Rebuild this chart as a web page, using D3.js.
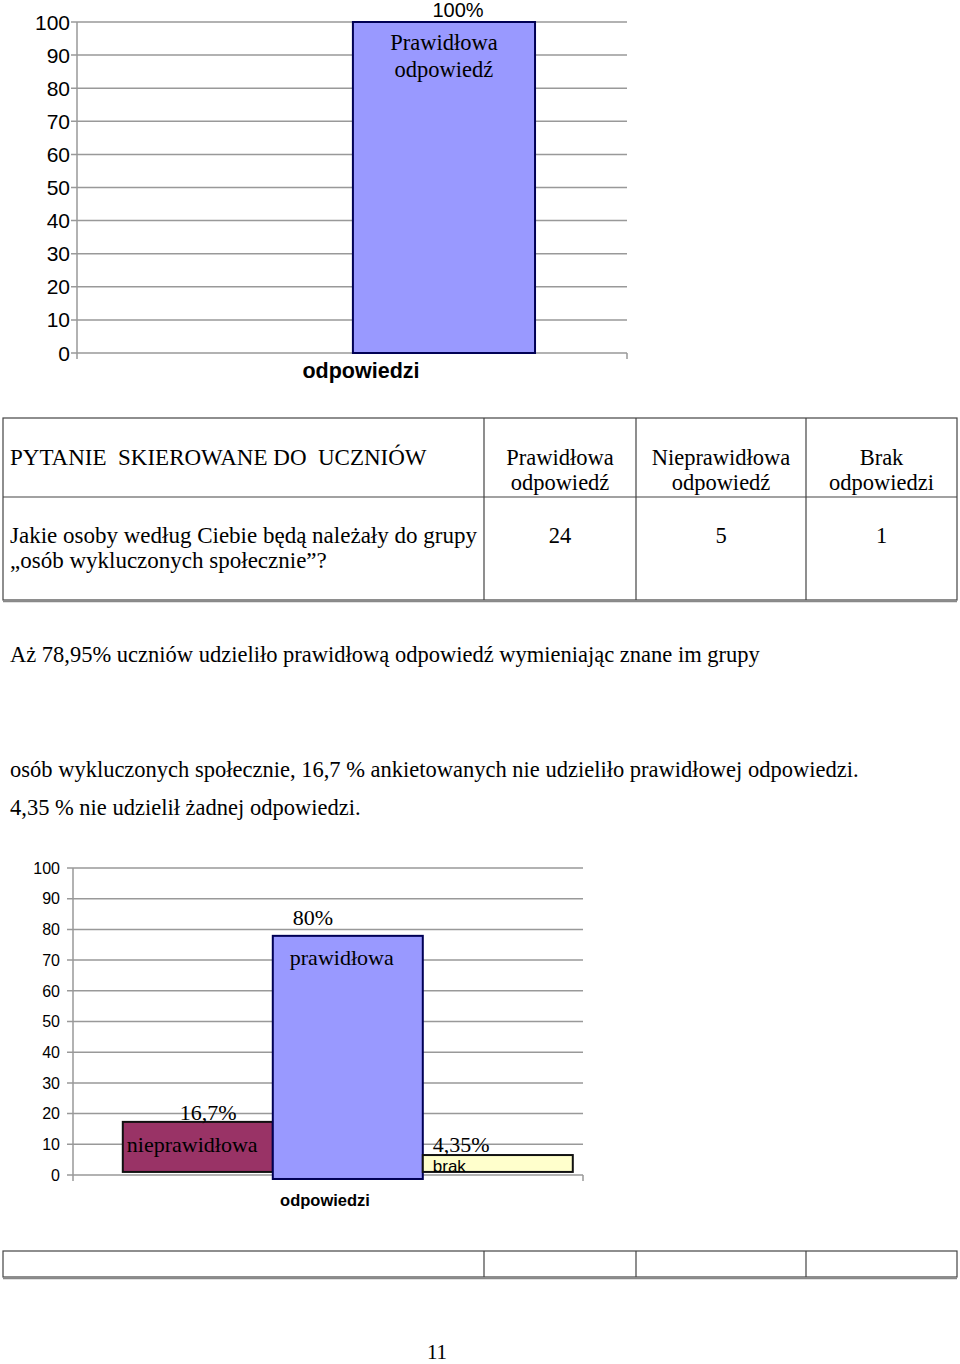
<!DOCTYPE html>
<meta charset="utf-8">
<script src="https://d3js.org/d3.v7.min.js"></script>
<style>
    body { margin: 0; background: #fff; }
    .tick-label { font-family: 'Liberation Sans', Arial, sans-serif; fill: #000; }
    .serif { font-family: 'Liberation Serif', 'Times New Roman', serif; fill: #000; }
    .sans { font-family: 'Liberation Sans', Arial, sans-serif; fill: #000; }
    .grid { stroke: #999; stroke-width: 1.5px; }
    .cell { stroke: #444; stroke-width: 1.2px; fill: none; }
</style>
<div id="page"></div>
<script>
    // --- data ---
    const yTicks = [0, 10, 20, 30, 40, 50, 60, 70, 80, 90, 100];

    const topCategory = "odpowiedzi";
    const topSeries = ["Prawidłowa odpowiedź"];
    const topValues = [100];
    const topLabels = ["100%"];

    const tableHeaders = ["PYTANIE  SKIEROWANE DO  UCZNIÓW", "Prawidłowa odpowiedź", "Nieprawidłowa odpowiedź", "Brak odpowiedzi"];
    const tableQuestion = ["Jakie osoby według Ciebie będą należały do grupy", "„osób wykluczonych społecznie”?"];
    const tableCounts = [24, 5, 1];

    const summaryLines = [
        "Aż 78,95% uczniów udzieliło prawidłową odpowiedź wymieniając znane im grupy",
        "osób wykluczonych społecznie, 16,7 % ankietowanych nie udzieliło prawidłowej odpowiedzi.",
        "4,35 % nie udzielił żadnej odpowiedzi."
    ];

    const bottomCategory = "odpowiedzi";
    const bottomSeries = ["nieprawidłowa", "prawidłowa", "brak"];
    const bottomValues = [17.3, 77.9, 6.5];
    const bottomBases = [1, -1.3, 1];
    const bottomLabels = ["16,7%", "80%", "4,35%"];

    const pageNumber = "11";

    // --- drawing ---
    const svg = d3.select("#page").append("svg")
        .attr("width", 960)
        .attr("height", 1364);

    function drawAxes(g, x0, x1, y, fontSize, gap) {
        g.selectAll(".grid")
            .data(yTicks)
            .enter().append("line")
            .attr("class", "grid")
            .attr("x1", x0 - 6)
            .attr("x2", x1)
            .attr("y1", d => y(d))
            .attr("y2", d => y(d));

        g.selectAll(".tick-label")
            .data(yTicks)
            .enter().append("text")
            .attr("class", "tick-label")
            .attr("x", x0 - gap)
            .attr("y", d => y(d))
            .attr("dy", "0.36em")
            .attr("text-anchor", "end")
            .style("font-size", fontSize + "px")
            .text(d => d);

        // y axis and x axis end ticks
        g.append("line").attr("class", "grid")
            .attr("x1", x0).attr("x2", x0)
            .attr("y1", y(100)).attr("y2", y(0) + 6);
        g.append("line").attr("class", "grid")
            .attr("x1", x1).attr("x2", x1)
            .attr("y1", y(0)).attr("y2", y(0) + 6);
    }

    // top chart
    let yTop = d3.scaleLinear().domain([0, 100]).range([353, 22]);
    let topG = svg.append("g");
    drawAxes(topG, 77, 627, yTop, 21, 7);

    let xTop = d3.scaleBand()
        .domain(topSeries)
        .range([77, 627])
        .paddingOuter(1.01)
        .align(0.75);

    topG.selectAll(".bar")
        .data(topValues)
        .enter().append("rect")
        .attr("x", (d, i) => xTop(topSeries[i]))
        .attr("y", d => yTop(d))
        .attr("width", xTop.bandwidth())
        .attr("height", d => yTop(0) - yTop(d))
        .style("fill", "#9999ff")
        .style("stroke", "#000055")
        .style("stroke-width", 2);

    topSeries.forEach(function (s, i) {
        let cx = xTop(s) + xTop.bandwidth() / 2;
        topG.append("text").attr("class", "sans")
            .attr("x", cx + 14).attr("y", yTop(topValues[i]) - 5)
            .attr("text-anchor", "middle")
            .style("font-size", "20px")
            .text(topLabels[i]);
        s.split(" ").forEach(function (w, k) {
            topG.append("text").attr("class", "serif")
                .attr("x", cx).attr("y", yTop(topValues[i]) + 28 + k * 27)
                .attr("text-anchor", "middle")
                .style("font-size", "22.5px")
                .text(w);
        });
    });

    topG.append("text").attr("class", "sans")
        .attr("x", 361).attr("y", 378)
        .attr("text-anchor", "middle")
        .style("font-size", "21.5px")
        .style("font-weight", "bold")
        .text(topCategory);

    // table
    const colX = [3, 484, 636, 806, 957];

    function drawTable(top, bottom, split) {
        let t = svg.append("g");
        t.append("rect").attr("class", "cell")
            .attr("x", colX[0]).attr("y", top)
            .attr("width", colX[4] - colX[0]).attr("height", bottom - top);
        t.selectAll(".col")
            .data(colX.slice(1, 4))
            .enter().append("line")
            .attr("class", "cell")
            .attr("x1", d => d).attr("x2", d => d)
            .attr("y1", top).attr("y2", bottom);
        if (split) {
            t.append("line").attr("class", "cell")
                .attr("x1", colX[0]).attr("x2", colX[4])
                .attr("y1", split).attr("y2", split);
        }
        t.append("line")
            .attr("x1", colX[0]).attr("x2", colX[4])
            .attr("y1", bottom + 1.5).attr("y2", bottom + 1.5)
            .style("stroke", "#888").style("stroke-width", 1.5);
        return t;
    }

    let table = drawTable(418, 600, 497);

    table.append("text").attr("class", "serif")
        .attr("x", 10).attr("y", 465)
        .style("font-size", "23px")
        .style("white-space", "pre")
        .attr("xml:space", "preserve")
        .text(tableHeaders[0]);

    tableHeaders.slice(1).forEach(function (h, i) {
        let cx = (colX[i + 1] + colX[i + 2]) / 2;
        h.split(" ").forEach(function (w, k) {
            table.append("text").attr("class", "serif")
                .attr("x", cx).attr("y", 465 + k * 25)
                .attr("text-anchor", "middle")
                .style("font-size", "22.5px")
                .text(w);
        });
    });

    tableQuestion.forEach(function (q, k) {
        table.append("text").attr("class", "serif")
            .attr("x", 10).attr("y", 543 + k * 25)
            .style("font-size", "23px")
            .text(q);
    });

    tableCounts.forEach(function (c, i) {
        table.append("text").attr("class", "serif")
            .attr("x", (colX[i + 1] + colX[i + 2]) / 2).attr("y", 543)
            .attr("text-anchor", "middle")
            .style("font-size", "22.5px")
            .text(c);
    });

    // summary text
    const summaryY = [662, 777, 815];
    svg.selectAll(".summary")
        .data(summaryLines)
        .enter().append("text")
        .attr("class", "serif summary")
        .attr("x", 10)
        .attr("y", (d, i) => summaryY[i])
        .style("font-size", "22.5px")
        .text(d => d);

    // bottom chart
    let yBot = d3.scaleLinear().domain([0, 100]).range([1175, 868]);
    let botG = svg.append("g");
    drawAxes(botG, 73, 583, yBot, 16, 13);

    let xBot = d3.scaleBand()
        .domain(bottomSeries)
        .range([73, 583])
        .paddingInner(0)
        .paddingOuter(0.2)
        .align(0.83);

    const botColors = ["#993366", "#9999ff", "#ffffcc"];

    botG.selectAll(".bar")
        .data(bottomValues)
        .enter().append("rect")
        .attr("x", (d, i) => xBot(bottomSeries[i]))
        .attr("y", d => yBot(d))
        .attr("width", xBot.bandwidth())
        .attr("height", (d, i) => yBot(bottomBases[i]) - yBot(d))
        .style("fill", (d, i) => botColors[i])
        .style("stroke", (d, i) => i === 1 ? "#000055" : "#111")
        .style("stroke-width", 2);

    // value and name labels (hand placed in the original)
    const pctDx = [57, 20, 10], pctDy = [-2, -11, -3];
    const nameDx = [4, 17, 10], nameDy = [30, 29, 17];
    bottomSeries.forEach(function (s, i) {
        let x = xBot(s), y = yBot(bottomValues[i]);
        botG.append("text").attr("class", "serif")
            .attr("x", x + pctDx[i]).attr("y", y + pctDy[i])
            .style("font-size", "22px")
            .text(bottomLabels[i]);
        botG.append("text").attr("class", i === 2 ? "sans" : "serif")
            .attr("x", x + nameDx[i]).attr("y", y + nameDy[i])
            .style("font-size", i === 2 ? "17px" : "22px")
            .text(s);
    });

    botG.append("text").attr("class", "sans")
        .attr("x", 325).attr("y", 1206)
        .attr("text-anchor", "middle")
        .style("font-size", "16.5px")
        .style("font-weight", "bold")
        .text(bottomCategory);

    // empty table below
    drawTable(1251, 1277, null);

    svg.append("text").attr("class", "serif")
        .attr("x", 437).attr("y", 1359)
        .attr("text-anchor", "middle")
        .style("font-size", "21px")
        .text(pageNumber);
</script>
